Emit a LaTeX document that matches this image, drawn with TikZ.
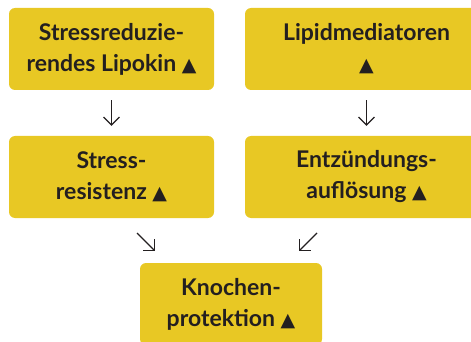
\documentclass[tikz,border=0pt]{standalone}
\usepackage{fontspec}
\setmainfont{Lato}
\newfontfamily\symfont{DejaVu Sans}
\usetikzlibrary{arrows.meta}
\definecolor{boxyellow}{HTML}{E8C824}
\definecolor{inkdark}{HTML}{231F20}
\newcommand{\tri}{{\symfont\fontsize{19pt}{19pt}\selectfont ▲}}
\begin{document}
\begin{tikzpicture}[x=1pt,y=-1pt,
  box/.style={fill=boxyellow, rounded corners=6pt, inner sep=0pt, align=center,
    text=inkdark, font=\fontsize{23pt}{31pt}\selectfont\bfseries},
  flow/.style={draw=inkdark, line width=1.1pt,
    -{Straight Barb[length=8pt,width=16pt,line width=1.1pt]}}]
\useasboundingbox (0,0) rectangle (471,342);
\node[box, minimum width=205pt, minimum height=82pt] (b1) at (111.5,49) {Stressreduzie-\\rendes Lipokin \tri};
\node[box, minimum width=243pt, minimum height=82pt] (b2) at (366.5,49) {Lipidmediatoren\\\tri};
\node[box, minimum width=205pt, minimum height=82pt] (b3) at (111.5,177) {Stress-\\resistenz \tri};
\node[box, minimum width=243pt, minimum height=82pt] (b4) at (366.5,177) {Entzündungs-\\auflösung \tri};
\node[box, minimum width=182pt, minimum height=82pt] (b5) at (231,304) {Knochen-\\protektion \tri};
\draw[flow, shorten <=10pt, shorten >=10pt] (b1.south) -- (b3.north);
\draw[flow, shorten <=10pt, shorten >=10pt] (b2.south) -- (b4.north);
\coordinate (d1s) at (137,233);
\coordinate (d1e) at (155,251);
\coordinate (d2s) at (317,233);
\coordinate (d2e) at (299,251);
\draw[flow] (d1s) -- (d1e);
\draw[flow] (d2s) -- (d2e);
\end{tikzpicture}
\end{document}
